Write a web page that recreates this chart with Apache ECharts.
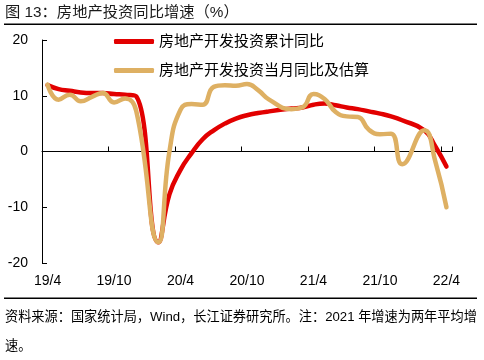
<!DOCTYPE html>
<html>
<head>
<meta charset="utf-8">
<script src="https://cdn.jsdelivr.net/npm/echarts@6/dist/echarts.min.js"></script>
<style>
html,body{margin:0;padding:0;background:#fff;}
#chart{width:484px;height:360px;}
</style>
</head>
<body>
<div id="chart"></div>
<script>
const categories = ['19/4','19/5','19/6','19/7','19/8','19/9','19/10','19/11','19/12',
  '20/1','20/2','20/3','20/4','20/5','20/6','20/7','20/8','20/9','20/10','20/11','20/12',
  '21/1','21/2','21/3','21/4','21/5','21/6','21/7','21/8','21/9','21/10','21/11','21/12',
  '22/1','22/2','22/3','22/4'];
const cumulative = [11.9,11.2,10.9,10.6,10.5,10.5,10.3,10.2,9.9,
  null,-16.3,-7.7,-3.3,-0.3,2.2,3.8,5.0,5.9,6.5,6.9,7.2,
  null,7.7,7.9,8.4,8.6,8.3,7.9,7.6,7.2,6.8,6.3,5.6,
  null,3.8,0.9,-2.7];
const monthly = [12.0,9.3,10.2,9.0,9.8,10.5,8.8,9.5,7.3,
  null,-16.3,0.0,7.5,8.5,8.4,11.6,11.9,11.8,12.1,11.0,9.3,
  null,7.6,7.9,10.3,9.4,7.1,6.3,6.2,3.9,3.1,3.2,-2.3,
  null,3.8,-1.8,-10.0];
const yTicks = [-20, -10, 0, 10, 20];
const seriesNames = ['房地产开发投资累计同比', '房地产开发投资当月同比及估算'];
const titleText = '图 13：房地产投资同比增速（%）';
const noteLine1 = '资料来源：国家统计局，Wind，长江证券研究所。注：2021 年增速为两年平均增';
const noteLine2 = '速。';

const FONT = '"Liberation Sans", Arial, "Noto Sans CJK SC", sans-serif';
const chart = echarts.init(document.getElementById('chart'), null, {renderer: 'canvas'});
chart.setOption({
  animation: false,
  backgroundColor: '#fff',
  textStyle: {fontFamily: FONT},
  grid: {left: 42, right: 32, top: 40, bottom: 97, containLabel: false},
  legend: {
    orient: 'vertical', left: 114, top: 34, itemGap: 14, padding: 0,
    itemWidth: 40, itemHeight: 5, icon: 'roundRect',
    textStyle: {fontSize: 15, color: '#000', fontFamily: FONT},
    data: seriesNames
  },
  xAxis: [{
    type: 'category', data: categories, position: 'bottom', boundaryGap: true,
    axisLine: {show: false}, axisTick: {show: false},
    axisLabel: {interval: 5, fontSize: 14, color: '#000', margin: 11, fontFamily: FONT},
    splitLine: {show: false}
  }, {
    type: 'category', data: categories, position: 'bottom', boundaryGap: true,
    axisLine: {show: true, onZero: true, onZeroAxisIndex: 0, lineStyle: {color: '#000', width: 1}},
    axisTick: {show: true, inside: true, length: 5, interval: 5, lineStyle: {color: '#000'}},
    axisLabel: {show: false},
    splitLine: {show: false}
  }],
  yAxis: {
    type: 'value', min: yTicks[0], max: yTicks[yTicks.length - 1], interval: 10,
    axisLine: {show: true, onZero: false, lineStyle: {color: '#000', width: 1}},
    axisTick: {show: true, inside: true, length: 5, lineStyle: {color: '#000'}},
    axisLabel: {fontSize: 14, color: '#000', margin: 14, fontFamily: FONT},
    splitLine: {show: false}
  },
  series: [{
    name: seriesNames[0], type: 'line', data: cumulative, xAxisIndex: 0,
    smooth: 0.5, connectNulls: true, symbol: 'none',
    lineStyle: {color: '#E20000', width: 4.5, cap: 'round', join: 'round'},
    itemStyle: {color: '#E20000'}
  }, {
    name: seriesNames[1], type: 'line', data: monthly, xAxisIndex: 0,
    smooth: 0.5, connectNulls: true, symbol: 'none',
    lineStyle: {color: '#DEB063', width: 4.5, cap: 'round', join: 'round'},
    itemStyle: {color: '#DEB063'}
  }],
  graphic: [
    {type: 'text', left: 5, top: 5, style: {text: titleText, fontSize: 15.3, fill: '#1a1a1a', fontFamily: FONT}},
    {type: 'rect', shape: {x: 4, y: 23.5, width: 473, height: 1.5}, style: {fill: '#000'}},
    {type: 'rect', shape: {x: 4, y: 297.5, width: 473, height: 1.5}, style: {fill: '#000'}},
    {type: 'text', left: 5, top: 311, style: {text: noteLine1, fontSize: 13.2, fill: '#000', fontFamily: FONT}},
    {type: 'text', left: 5, top: 340, style: {text: noteLine2, fontSize: 13.2, fill: '#000', fontFamily: FONT}}
  ]
});
</script>
</body>
</html>
